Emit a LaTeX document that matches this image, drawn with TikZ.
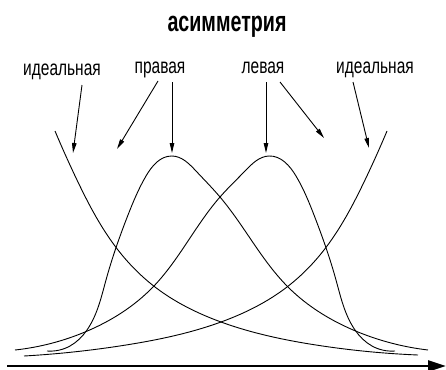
\documentclass[tikz,border=0pt]{standalone}
\usepackage{fontspec}
\setmainfont{Liberation Sans}
\newfontfamily\labfont[FakeStretch=0.72]{Liberation Sans}
\newfontfamily\titfont[FakeStretch=0.69]{Liberation Sans Bold}
\usetikzlibrary{arrows.meta,hobby}
\begin{document}
\begin{tikzpicture}[x=1pt,y=-1pt,
  curve/.style={line width=0.9pt, use Hobby shortcut},
  pointer/.style={line width=0.9pt, -{Triangle[length=10pt,width=4.5pt]}},
  lab/.style={font=\labfont\fontsize{21.5}{24}\selectfont, anchor=base, inner sep=0pt},
  axisarrow/.style={line width=2.4pt, -{Triangle[length=18pt,width=11pt]}}]
\useasboundingbox (0,0) rectangle (446,369);
\node[font=\titfont\fontsize{28.5}{30}\selectfont, anchor=base, inner sep=0pt] (title) at (227,32) {асимметрия};
\node[lab] (idl) at (62,75) {идеальная};
\node[lab] (prav) at (160,73) {правая};
\node[lab] (lev) at (263,73) {левая};
\node[lab] (idr) at (375,73) {идеальная};
% arrow endpoints
\coordinate (a1s) at (82,85);  \coordinate (a1e) at (73,153);
\coordinate (a2s) at (158,81); \coordinate (a2e) at (117,149);
\coordinate (a3s) at (172,82); \coordinate (a3e) at (172,153);
\coordinate (a4s) at (266,82); \coordinate (a4e) at (266,153);
\coordinate (a5s) at (280,82); \coordinate (a5e) at (324,138);
\coordinate (a6s) at (353,82); \coordinate (a6e) at (369,148);
\draw[pointer] (a1s) -- (a1e);
\draw[pointer] (a2s) -- (a2e);
\draw[pointer] (a3s) -- (a3e);
\draw[pointer] (a4s) -- (a4e);
\draw[pointer] (a5s) -- (a5e);
\draw[pointer] (a6s) -- (a6e);
% ideal left (decreasing)
\draw[curve] (55,131) .. (77,180) .. (118,250) .. (155,287) .. (221,322) .. (316,345) .. (418,355);
% ideal right (increasing)
\draw[curve] (387,131) .. (365,180) .. (324,250) .. (287,287) .. (221,322) .. (126,345) .. (24,356);
% right-skewed (peak left)
\draw[curve] (47,351) .. (70,346) .. (87,330) .. (106,280) .. (128,215) .. (146,176) .. (172,156) .. (196,171) .. (220,197) .. (288,287) .. (358,332) .. (428,350);
% left-skewed (peak right)
\draw[curve] (395,351) .. (372,346) .. (355,330) .. (336,280) .. (314,215) .. (296,176) .. (269,156) .. (245,171) .. (220,197) .. (153,287) .. (85,332) .. (15,350);
% axis
\coordinate (ax0) at (7,366);
\coordinate (ax1) at (446,366);
\draw[axisarrow] (ax0) -- (ax1);
\end{tikzpicture}
\end{document}
